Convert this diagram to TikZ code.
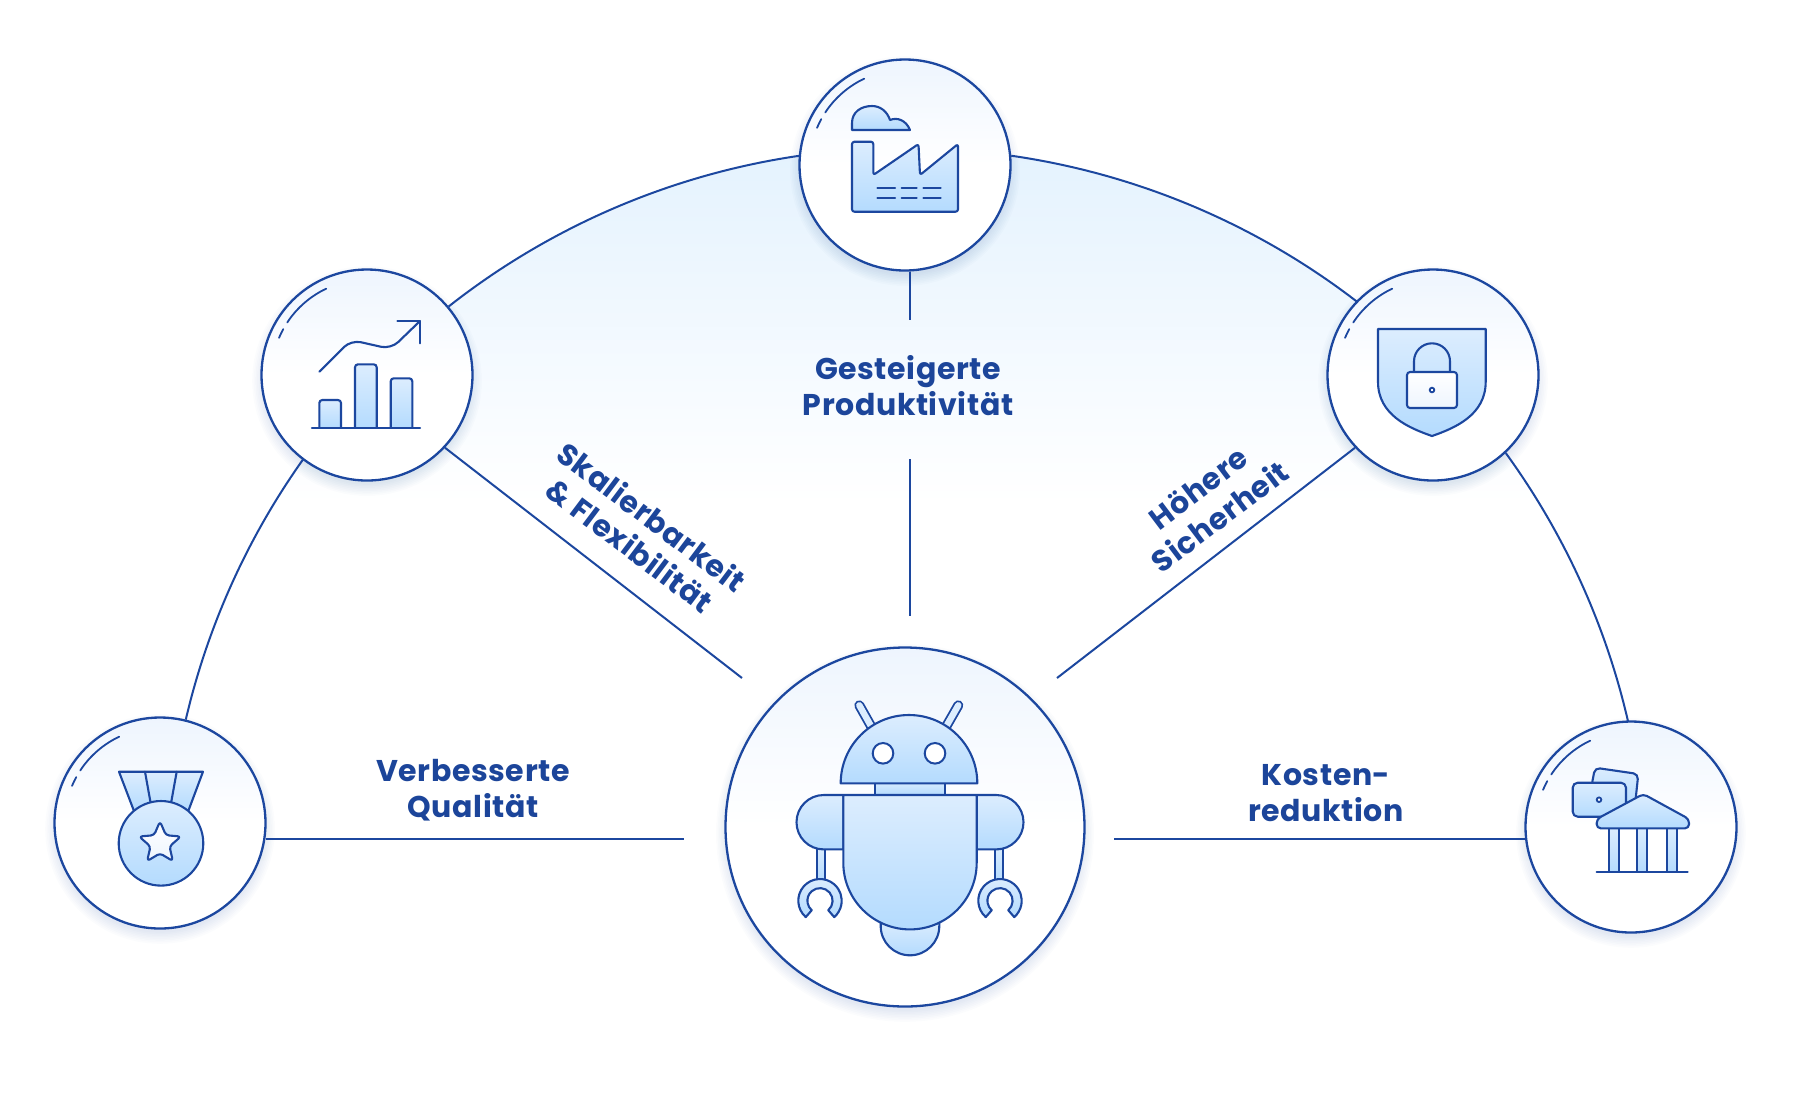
\documentclass[tikz,border=0pt]{standalone}
\usepackage{fontspec}
\setmainfont[LetterSpace=2]{Poppins}
\usetikzlibrary{calc}
\pgfdeclarelayer{bg}
\pgfsetlayers{bg,main}
\definecolor{ln}{HTML}{1C479F}
\definecolor{txt}{HTML}{1C459A}
\definecolor{gtop}{HTML}{EEF5FE}
\definecolor{itop}{HTML}{DCEDFE}
\definecolor{ibot}{HTML}{B4DBFE}
\definecolor{areatop}{HTML}{E4F2FE}
\tikzset{
  conn/.style={draw=ln,line width=1pt},
  disc/.style={circle,draw=ln,line width=1.15pt,minimum size=#1,inner sep=0pt,top color=gtop,bottom color=white,middle color=white},
  icon/.style={draw=ln,line width=1.05pt,line join=round,top color=itop,bottom color=ibot},
  iconw/.style={draw=ln,line width=1.05pt,line join=round,top color=white,bottom color=gtop},
  stroke/.style={draw=ln,line width=1.05pt,line cap=round,line join=round},
  label/.style={text=txt,align=center,inner sep=0pt,font=\fontsize{15}{18}\selectfont\bfseries}
}
\newcommand{\softshadow}[2]{%
  \foreach \i in {1,...,8}{\fill[ln,opacity=.014] (#1) ++(0,6) circle[radius=#2-4+\i*1.6];}}
\newcommand{\gloss}[1]{%
  \draw[stroke,line width=.9pt] (#1) ++(213.4:95.5) arc[start angle=213.4,end angle=244.7,radius=95.5];
  \draw[stroke,line width=.9pt] (#1) ++(202.9:95.5) arc[start angle=202.9,end angle=208.7,radius=95.5];}
\newcommand{\claw}[2]{%
  \path[icon] (#1,#2) ++(131:21.7) arc[start angle=131,end angle=409,radius=21.7]
    -- ($(#1,#2)+(49:12.6)$) arc[start angle=409,end angle=131,radius=12.6] -- cycle;}
\begin{document}
\begin{tikzpicture}[x=.5pt,y=-.5pt]
\path[use as bounding box] (0,0) rectangle (1800,1100);
% nodes
\softshadow{905,827}{180}
\softshadow{905,165}{106}
\softshadow{367,375}{106}
\softshadow{1433,375}{106}
\softshadow{160,823}{106}
\softshadow{1631,827}{106}
\node[disc=179.5pt] (robot) at (905,827) {};
\node[disc=105.5pt] (factory) at (905,165) {};
\node[disc=105.5pt] (chart) at (367,375) {};
\node[disc=105.5pt] (shield) at (1433,375) {};
\node[disc=105.5pt] (medal) at (160,823) {};
\node[disc=105.5pt] (bank) at (1631,827) {};
\coordinate (hub) at (905,888);
\coordinate (topA) at (910,320);
\coordinate (topB) at (910,459);
\coordinate (topC) at (910,616);
\coordinate (leftEnd) at (742,678);
\coordinate (rightEnd) at (1057,678);
\coordinate (medalEnd) at (684,839);
\coordinate (bankEnd) at (1114,839);
% area and arcs
\begin{pgfonlayer}{bg}
\path[use as bounding box] (0,0) rectangle (1800,1100);
\begin{scope}
\clip (0,0) rectangle (1800,1100);
\clip (hub) circle[radius=740];
\shade[top color=areatop,bottom color=white,middle color=white] (165,148) rectangle (1645,860);
\end{scope}
\draw[conn] (medal.76.8) arc[start angle=193.15,end angle=215.4,radius=740];
\draw[conn] (chart.40.5) arc[start angle=231.8,end angle=261.8,radius=740];
\draw[conn] (factory.5.1) arc[start angle=278.2,end angle=307.6,radius=740];
\draw[conn] (shield.-47.8) arc[start angle=324,end angle=346.97,radius=740];
\end{pgfonlayer}
% connectors
\draw[conn] (factory.south -| topA) -- (topA);
\draw[conn] (topB) -- (topC);
\draw[conn] (chart.-43) -- (leftEnd);
\draw[conn] (shield.223) -- (rightEnd);
\draw[conn] (medal.-8.7 |- medalEnd) -- (medalEnd);
\draw[conn] (bank.186.5 |- bankEnd) -- (bankEnd);
% labels
\node[label] (lProd) at (908,386) {Gesteigerte\\Produktivität};
\node[label] (lQual) at (473,790) {Verbesserte\\Qualität};
\node[label] (lCost) at (1326,793) {Kosten-\\reduktion};
\node[label,rotate=-37] (lScale) at (641,531) {Skalierbarkeit\\\& Flexibilität};
\node[label,rotate=37] (lSafe) at (1209,502) {Höhere\\Sicherheit};
% gloss
\gloss{factory}\gloss{chart}\gloss{shield}\gloss{medal}\gloss{bank}
% robot
\draw[ln,line width=5pt,line cap=round] (871.7,727.3) -- (859.3,705.3);
\draw[ln,line width=5pt,line cap=round] (945.7,727.3) -- (958.3,705.3);
\draw[itop,line width=3.2pt,line cap=round] (871.7,727.3) -- (859.3,705.3);
\draw[itop,line width=3.2pt,line cap=round] (945.7,727.3) -- (958.3,705.3);
\path[icon] (816.7,845) rectangle (825,882);
\path[icon] (995,845) rectangle (1003.3,882);
\claw{820}{900.7}
\claw{1000}{900.7}
\path[icon] (880.7,920) -- (880.7,926) arc[start angle=180,end angle=0,radius=29.3] -- (939.3,920) -- cycle;
\path[icon] (843.3,795) -- (823.7,795) arc[start angle=270,end angle=90,radius=27.2] -- (843.3,849.4) -- cycle;
\path[icon] (976.7,795) -- (996.3,795) arc[start angle=-90,end angle=90,radius=27.2] -- (976.7,849.4) -- cycle;
\path[icon] (875,780) rectangle (945,795);
\path[icon] (843.3,795) -- (976.7,795) -- (976.7,862.7) arc[start angle=0,end angle=180,radius=66.7] -- cycle;
\path[icon] (840.7,783.3) arc[start angle=180,end angle=360,radius=68.3] -- cycle;
\draw[draw=ln,line width=1pt,fill=white] (883,753.3) circle[radius=10.3];
\draw[draw=ln,line width=1pt,fill=white] (935,753.3) circle[radius=10.3];
% factory icon
\path[icon] (852,130) -- (852,123) .. controls (852,112) and (861,106) .. (872,106) .. controls (880,106) and (887,111) .. (890,120) .. controls (897,117) and (906,120) .. (910,130) -- cycle;
\path[icon,rounded corners=1.2pt] (852,141.7) -- (873.3,141.7) -- (873.3,175) -- (918.5,144) -- (920,175) -- (958,144) -- (958,211.7) -- (852,211.7) -- cycle;
\foreach \y in {188.3,197.7}{
  \draw[stroke] (877.3,\y) -- (895,\y);
  \draw[stroke] (901.7,\y) -- (916.7,\y);
  \draw[stroke] (923.3,\y) -- (940.7,\y);}
% chart icon
\path[icon,rounded corners=1.5pt] (319.3,428.3) -- (319.3,400) -- (341,400) -- (341,428.3);
\path[icon,rounded corners=1.5pt] (355,428.3) -- (355,364.3) -- (376.7,364.3) -- (376.7,428.3);
\path[icon,rounded corners=1.5pt] (390.7,428.3) -- (390.7,378.3) -- (412.3,378.3) -- (412.3,428.3);
\draw[stroke] (312,428.3) -- (420,428.3);
\draw[stroke,rounded corners=5pt] (319.3,371.7) -- (351,340) -- (391,349) -- (420,321);
\draw[stroke] (397.3,321) -- (420,321) -- (420,343.3);
% shield icon
\path[icon] (1378,329) -- (1485.7,329) -- (1485.7,381.7) .. controls (1485.7,415) and (1455,428) .. (1432,436) .. controls (1409,428) and (1378,415) .. (1378,381.7) -- cycle;
\draw[stroke] (1414,372) -- (1414,361.3) arc[start angle=180,end angle=360,radius=18] -- (1450,372);
\path[iconw,rounded corners=1.5pt] (1407,372) rectangle (1457,408);
\draw[draw=ln,line width=.9pt,fill=white] (1432,390) circle[radius=2.3];
% medal icon
\path[icon] (119,771.7) -- (203,771.7) -- (188.3,811) -- (134,811) -- cycle;
\draw[stroke] (145,771.7) -- (151,805);
\draw[stroke] (176.7,771.7) -- (170.7,805);
\path[icon] (161,843.3) circle[radius=42.3];
\path[iconw,rounded corners=1.6pt] (160,821.3) -- (165.9,835.2) -- (180.9,836.5) -- (169.5,846.4) -- (172.9,861.1) -- (160,853.3) -- (147.1,861.1) -- (150.5,846.4) -- (139.1,836.5) -- (154.1,835.2) -- cycle;
% bank icon
\path[icon,rounded corners=2.5pt] (1591.7,785) -- (1595,767.7) -- (1638.3,774) -- (1635,805) -- (1590,800) -- cycle;
\path[icon,rounded corners=2.5pt] (1572.7,782.7) rectangle (1626,816.7);
\draw[draw=ln,line width=.9pt,fill=white] (1599,799.7) circle[radius=2.3];
\foreach \a/\b in {1609/1619,1636.7/1646.7,1666.7/1676.7}{
  \path[icon] (\a,828.3) rectangle (\b,871.7);}
\path[icon,rounded corners=2pt] (1643.3,794) -- (1689,819) -- (1689,828.3) -- (1596.7,828.3) -- (1596.7,819) -- cycle;
\draw[stroke] (1596.7,871.7) -- (1687.7,871.7);
\end{tikzpicture}
\end{document}
